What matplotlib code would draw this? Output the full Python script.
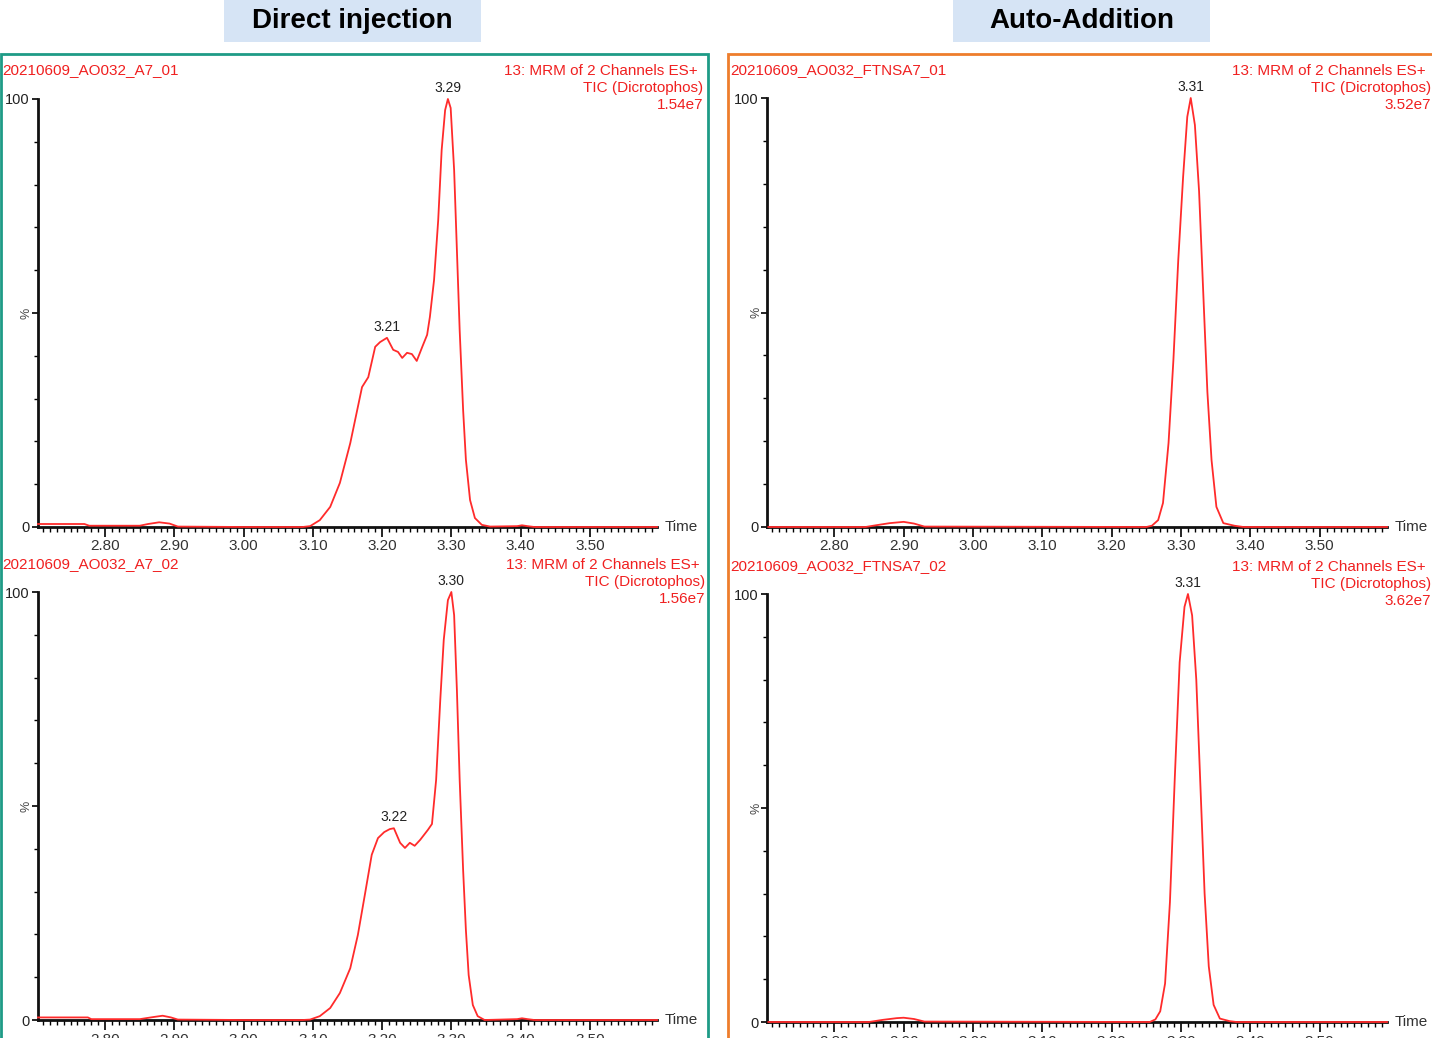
import matplotlib
matplotlib.use("Agg")
import matplotlib.pyplot as plt
from matplotlib.patches import Rectangle
from matplotlib.ticker import MultipleLocator, FormatStrFormatter
from matplotlib.transforms import offset_copy

plt.rcParams['font.family'] = ['Liberation Sans', 'DejaVu Sans']

W, H = 1432, 1038

# ---- data (time [min], relative intensity [%]) ----
t_a7_01 = [2.703, 2.770, 2.777, 2.850, 2.862, 2.878, 2.893, 2.905, 3.000, 3.085,
           3.096, 3.110, 3.125, 3.139, 3.154, 3.161, 3.171, 3.180, 3.190, 3.197,
           3.207, 3.216, 3.223, 3.229, 3.236, 3.243, 3.250, 3.258, 3.265, 3.269,
           3.275, 3.281, 3.286, 3.291, 3.295, 3.299, 3.304, 3.308, 3.312, 3.317,
           3.321, 3.327, 3.334, 3.344, 3.356, 3.395, 3.402, 3.410, 3.420, 3.597]
i_a7_01 = [0.7, 0.7, 0.3, 0.3, 0.7, 1.1, 0.8, 0.1, 0.0, 0.0,
           0.2, 1.6, 4.7, 10.3, 19.6, 25.0, 32.7, 35.0, 42.1, 43.2,
           44.2, 41.4, 40.9, 39.5, 40.7, 40.4, 38.8, 42.1, 44.9, 49.1,
           57.7, 71.7, 88.1, 97.4, 100.0, 97.9, 83.4, 64.7, 46.0, 27.3,
           15.7, 6.3, 2.1, 0.5, 0.1, 0.2, 0.4, 0.2, 0.0, 0.0]

t_a7_02 = [2.703, 2.775, 2.780, 2.850, 2.870, 2.883, 2.895, 2.905, 3.000, 3.085,
           3.096, 3.110, 3.125, 3.139, 3.154, 3.165, 3.175, 3.185, 3.194, 3.203,
           3.211, 3.217, 3.226, 3.233, 3.240, 3.247, 3.255, 3.266, 3.272, 3.278,
           3.284, 3.289, 3.295, 3.300, 3.304, 3.308, 3.312, 3.317, 3.321, 3.325,
           3.331, 3.338, 3.348, 3.395, 3.402, 3.410, 3.420, 3.597]
i_a7_02 = [0.6, 0.6, 0.2, 0.2, 0.7, 1.0, 0.6, 0.1, 0.0, 0.0,
           0.1, 0.9, 2.8, 6.3, 12.1, 19.9, 29.2, 38.6, 42.5, 43.9,
           44.6, 44.8, 41.4, 40.2, 41.4, 40.7, 42.1, 44.4, 45.8, 56.1,
           74.8, 88.8, 98.1, 100.0, 94.6, 77.1, 56.1, 35.0, 21.0, 10.5,
           3.5, 0.9, 0.0, 0.2, 0.4, 0.2, 0.0, 0.0]

t_ftnsa7_01 = [2.705, 2.845, 2.860, 2.880, 2.900, 2.915, 2.930, 3.250, 3.258, 3.267,
               3.274, 3.282, 3.289, 3.296, 3.303, 3.309, 3.314, 3.320, 3.326, 3.332,
               3.338, 3.344, 3.351, 3.361, 3.377, 3.390, 3.597]
i_ftnsa7_01 = [0.0, 0.0, 0.4, 0.9, 1.2, 0.8, 0.1, 0.0, 0.3, 1.6,
               5.6, 19.6, 38.9, 62.2, 81.6, 95.6, 100.0, 93.7, 78.3, 54.8,
               31.5, 15.6, 4.7, 0.9, 0.3, 0.0, 0.0]

t_ftnsa7_02 = [2.705, 2.850, 2.870, 2.890, 2.900, 2.915, 2.930, 3.255, 3.263, 3.270,
               3.277, 3.284, 3.291, 3.298, 3.305, 3.310, 3.316, 3.322, 3.328, 3.334,
               3.340, 3.347, 3.356, 3.370, 3.380, 3.597]
i_ftnsa7_02 = [0.0, 0.0, 0.5, 0.9, 1.0, 0.7, 0.1, 0.0, 0.6, 2.5,
               9.0, 28.0, 57.0, 84.0, 97.0, 100.0, 95.0, 80.0, 55.0, 30.0,
               13.0, 4.0, 0.8, 0.2, 0.0, 0.0]

sample_names = ['20210609_AO032_A7_01', '20210609_AO032_A7_02',
                '20210609_AO032_FTNSA7_01', '20210609_AO032_FTNSA7_02']
tic_totals = ['1.54e7', '1.56e7', '3.52e7', '3.62e7']
# (retention time, apex %, label) for the annotated peaks of each trace
peak_marks = [[(3.295, 100.0, '3.29'), (3.207, 44.2, '3.21')],
              [(3.300, 100.0, '3.30'), (3.217, 44.8, '3.22')],
              [(3.314, 100.0, '3.31')],
              [(3.310, 100.0, '3.31')]]
panel_titles = ['Direct injection', 'Auto-Addition']

RED = '#ff2b2b'
TXT_RED = '#f02020'
TEAL = '#1e9b86'
ORANGE = '#ee7d2c'
BOX_BLUE = '#d6e4f5'


def fig_box(x0, y0, x1, y1):
    """pixel box (top-left origin) -> figure fraction rect"""
    return [x0 / W, 1 - y1 / H, (x1 - x0) / W, (y1 - y0) / H]


def fpt(x, y):
    return x / W, 1 - y / H


fig = plt.figure(figsize=(W / 100, H / 100), dpi=100)

# panel frames and title boxes
frames = [(1, 54, 708, 1045, TEAL), (728, 54, 1440, 1045, ORANGE)]
for x0, y0, x1, y1, col in frames:
    fig.patches.append(Rectangle(fpt(x0, y1), (x1 - x0) / W, (y1 - y0) / H,
                                 transform=fig.transFigure, fill=False,
                                 edgecolor=col, linewidth=2))
title_boxes = [(224, 0, 481, 42), (953, 0, 1210, 42)]
for (x0, y0, x1, y1), title in zip(title_boxes, panel_titles):
    fig.patches.append(Rectangle(fpt(x0, y1), (x1 - x0) / W, (y1 - y0) / H,
                                 transform=fig.transFigure, facecolor=BOX_BLUE,
                                 edgecolor='none'))
    fig.text(*fpt((x0 + x1) / 2, 21), title, ha='center', va='center',
             fontsize=20, fontweight='bold', color='black')

axes_px = [(38, 99, 657, 527), (38, 592, 657, 1020),
           (767, 98, 1387, 527), (767, 594, 1387, 1022)]
header_px = [(2, 70, 703), (2, 564, 705), (730, 70, 1431), (730, 566, 1431)]
traces = [(t_a7_01, i_a7_01), (t_a7_02, i_a7_02),
          (t_ftnsa7_01, i_ftnsa7_01), (t_ftnsa7_02, i_ftnsa7_02)]

for k in range(4):
    ax = fig.add_axes(fig_box(*axes_px[k]))
    t, inten = traces[k]
    ax.plot(t, inten, color=RED, linewidth=1.3, zorder=3, clip_on=False)
    ax.set_xlim(2.703, 3.597)
    ax.set_ylim(0, 100)
    for s in ('top', 'right'):
        ax.spines[s].set_visible(False)
    for s in ('left', 'bottom'):
        ax.spines[s].set_linewidth(2)
        ax.spines[s].set_color('#111111')
    ax.set_facecolor('none')

    ax.xaxis.set_major_locator(MultipleLocator(0.1))
    ax.xaxis.set_minor_locator(MultipleLocator(0.01))
    ax.xaxis.set_major_formatter(FormatStrFormatter('%.2f'))
    ax.tick_params(axis='x', which='major', length=7, width=1.2, pad=2,
                   labelsize=11, labelcolor='#333333')
    ax.tick_params(axis='x', which='minor', length=3.5, width=1)
    ax.set_yticks([0, 50, 100])
    ax.set_yticklabels(['0', '', '100'])
    ax.yaxis.set_minor_locator(MultipleLocator(10))
    ax.tick_params(axis='y', which='major', length=4, width=1.2, pad=2,
                   labelsize=10.5, labelcolor='#222222')
    ax.tick_params(axis='y', which='minor', length=3, width=1)

    # rotated "%" marker at the 50 tick, and the "Time" axis name
    ax.text(0, 50, '%', transform=offset_copy(ax.get_yaxis_transform(), fig=fig,
                                             x=-11, y=0, units='dots'),
            rotation=90, ha='center', va='center', fontsize=9, color='#444444')
    ax.text(1.0, 0, 'Time', transform=offset_copy(ax.transAxes, fig=fig,
                                                  x=8, y=0, units='dots'),
            ha='left', va='center', fontsize=11, color='#333333')

    for rt, apex, lab in peak_marks[k]:
        ax.annotate(lab, xy=(rt, apex), xytext=(0, 3), textcoords='offset points',
                    ha='center', va='bottom', fontsize=10, color='#222222')

    xl, yh, xr = header_px[k]
    fig.text(*fpt(xl, yh), sample_names[k], ha='left', va='center',
             fontsize=11, color=TXT_RED)
    fig.text(*fpt(xr - 5, yh + 1), '13: MRM of 2 Channels ES+', ha='right',
             va='center', fontsize=11, color=TXT_RED)
    fig.text(*fpt(xr, yh + 18), 'TIC (Dicrotophos)', ha='right', va='center',
             fontsize=11, color=TXT_RED)
    fig.text(*fpt(xr, yh + 35), tic_totals[k], ha='right', va='center',
             fontsize=11, color=TXT_RED)

fig.savefig('out.png', dpi=100)
